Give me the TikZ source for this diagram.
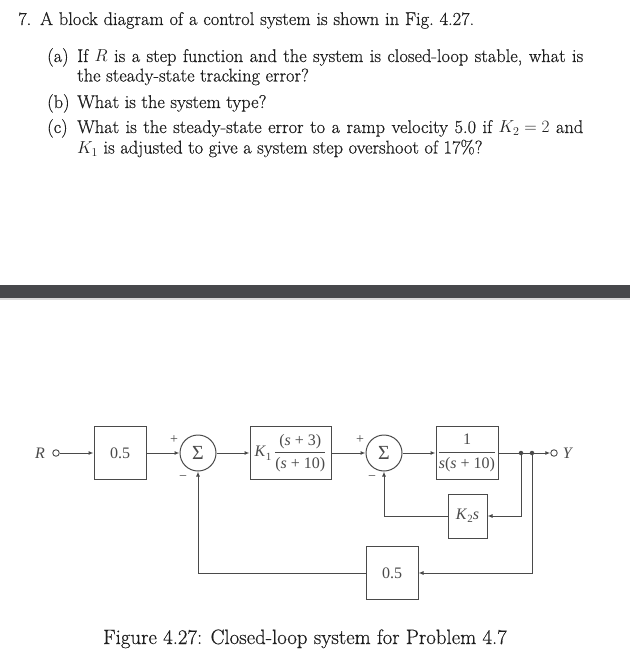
\documentclass[tikz,border=0pt]{standalone}
\usepackage{fontspec}
\usetikzlibrary{arrows.meta}
\newfontfamily\dfont{Liberation Serif}
\newfontfamily\qfam{Latin Modern Roman}[FakeBold=0.5]
\definecolor{lc}{HTML}{4A4A4A}
\definecolor{tc}{HTML}{1E1E1E}
\definecolor{barc}{HTML}{47484B}
\definecolor{barl}{HTML}{D9D9D9}
\newcommand{\qfont}{\qfam\fontsize{18.4}{22}\selectfont}
\newcommand{\dsz}{\dfont\fontsize{16}{18}\selectfont}
\newcommand{\sigsym}{{\dfont\fontsize{20}{20}\selectfont Σ}}
\begin{document}
\begin{tikzpicture}[x=1pt,y=-1pt,
  qtext/.style={anchor=base west, inner sep=0pt, text=tc, font=\qfont},
  blk/.style={draw=lc, line width=1pt, inner sep=0pt, text=lc, font=\dsz},
  sumc/.style={circle, draw=lc, line width=1pt, minimum size=36pt, inner sep=0pt, text=lc},
  arr/.style={draw=lc, line width=1pt, -{Latex[length=5pt,width=4pt]}},
  wire/.style={draw=lc, line width=1pt},
  dotn/.style={circle, fill=lc, minimum size=4.5pt, inner sep=0pt},
  term/.style={circle, draw=lc, line width=0.9pt, minimum size=6.5pt, inner sep=0pt, fill=white},
  lbl/.style={inner sep=0pt, text=lc, font=\dsz},
  sgn/.style={inner sep=0pt, text=lc, font=\dfont\fontsize{14}{14}\selectfont}]
\useasboundingbox (0,0) rectangle (630,668);
\fill[white] (0,0) rectangle (630,668);

% ---- question text ----
\node[qtext] (q0a) at (18,25) {7.};
\node[qtext] (q0b) at (40,25) {\makebox[434pt][s]{A block diagram of a control system is shown in Fig.\ 4.27.}};
\node[qtext] (qal) at (47,62) {(a)};
\node[qtext] (qa1) at (77,62) {\makebox[506pt][s]{If \mbox{$R$} is a step function and the system is closed-loop stable, what is}};
\node[qtext] (qa2) at (77,81.5) {the steady-state tracking error?};
\node[qtext] (qbl) at (47,108) {(b)};
\node[qtext] (qb1) at (77,108) {What is the system type?};
\node[qtext] (qcl) at (47,133) {(c)};
\node[qtext] (qc1) at (77,133) {\makebox[506pt][s]{What is the steady-state error to a ramp velocity 5.0 if \mbox{$K_2 = 2$} and}};
\node[qtext] (qc2) at (77,153.5) {$K_1$ is adjusted to give a system step overshoot of 17\%?};

% ---- separator bar ----
\fill[barc] (0,285) rectangle (630,298);
\fill[barl] (0,298) rectangle (630,300);

% ---- block diagram ----
\node[lbl] (R) at (40,453) {\textit{R}};
\node[term] (ro) at (56,453) {};
\node[blk, minimum width=52pt, minimum height=53pt] (b1) at (120,453) {0.5};
\node[sumc] (s1) at (198,453) {\sigsym};
\node[blk, minimum width=81pt, minimum height=53pt] (k1) at (290.5,453)
  {\textit{K}\raisebox{-0.45ex}{\fontsize{11}{11}\selectfont 1}\,$\displaystyle\frac{\hbox{\dsz(\textit{s} + 3)}}{\hbox{\dsz(\textit{s} + 10)}}$};
\node[sumc] (s2) at (384,453) {\sigsym};
\node[blk, minimum width=62pt, minimum height=53pt] (g) at (467,453)
  {$\displaystyle\frac{\hbox{\dsz 1}}{\hbox{\dsz\textit{s}(\textit{s} + 10)}}$};
\node[dotn] (d1) at (521,453) {};
\node[dotn] (d2) at (532,453) {};
\node[term] (yo) at (554,453) {};
\node[lbl] (Y) at (568,453) {\textit{Y}};
\node[blk, minimum width=39pt, minimum height=44pt] (k2) at (467.5,516) {\textit{K}\raisebox{-0.45ex}{\fontsize{11}{11}\selectfont 2}\textit{s}};
\node[blk, minimum width=52pt, minimum height=53pt] (b2) at (392,573) {0.5};

\node[sgn] (p1) at (174,440) {+};
\node[sgn] (m1) at (183,478) {−};
\node[sgn] (p2) at (360,440) {+};
\node[sgn] (m2) at (372,478) {−};

\draw[arr] (ro) -- (b1);
\draw[arr] (b1) -- (s1);
\draw[arr] (s1) -- (k1);
\draw[arr] (k1) -- (s2);
\draw[arr] (s2) -- (g);
\draw[wire] (g) -- (d1);
\draw[wire] (d1) -- (d2);
\draw[arr] (d2) -- (yo);
\draw[arr] (d1) |- (k2);
\draw[arr] (k2) -| (s2);
\draw[arr] (d2) |- (b2);
\draw[arr] (b2) -| (s1);

% ---- caption ----
\node[anchor=base west, inner sep=0pt, text=tc, font=\qfam\fontsize{20.8}{24}\selectfont] (cap) at (103,644)
  {Figure 4.27: Closed-loop system for Problem 4.7};
\end{tikzpicture}
\end{document}
